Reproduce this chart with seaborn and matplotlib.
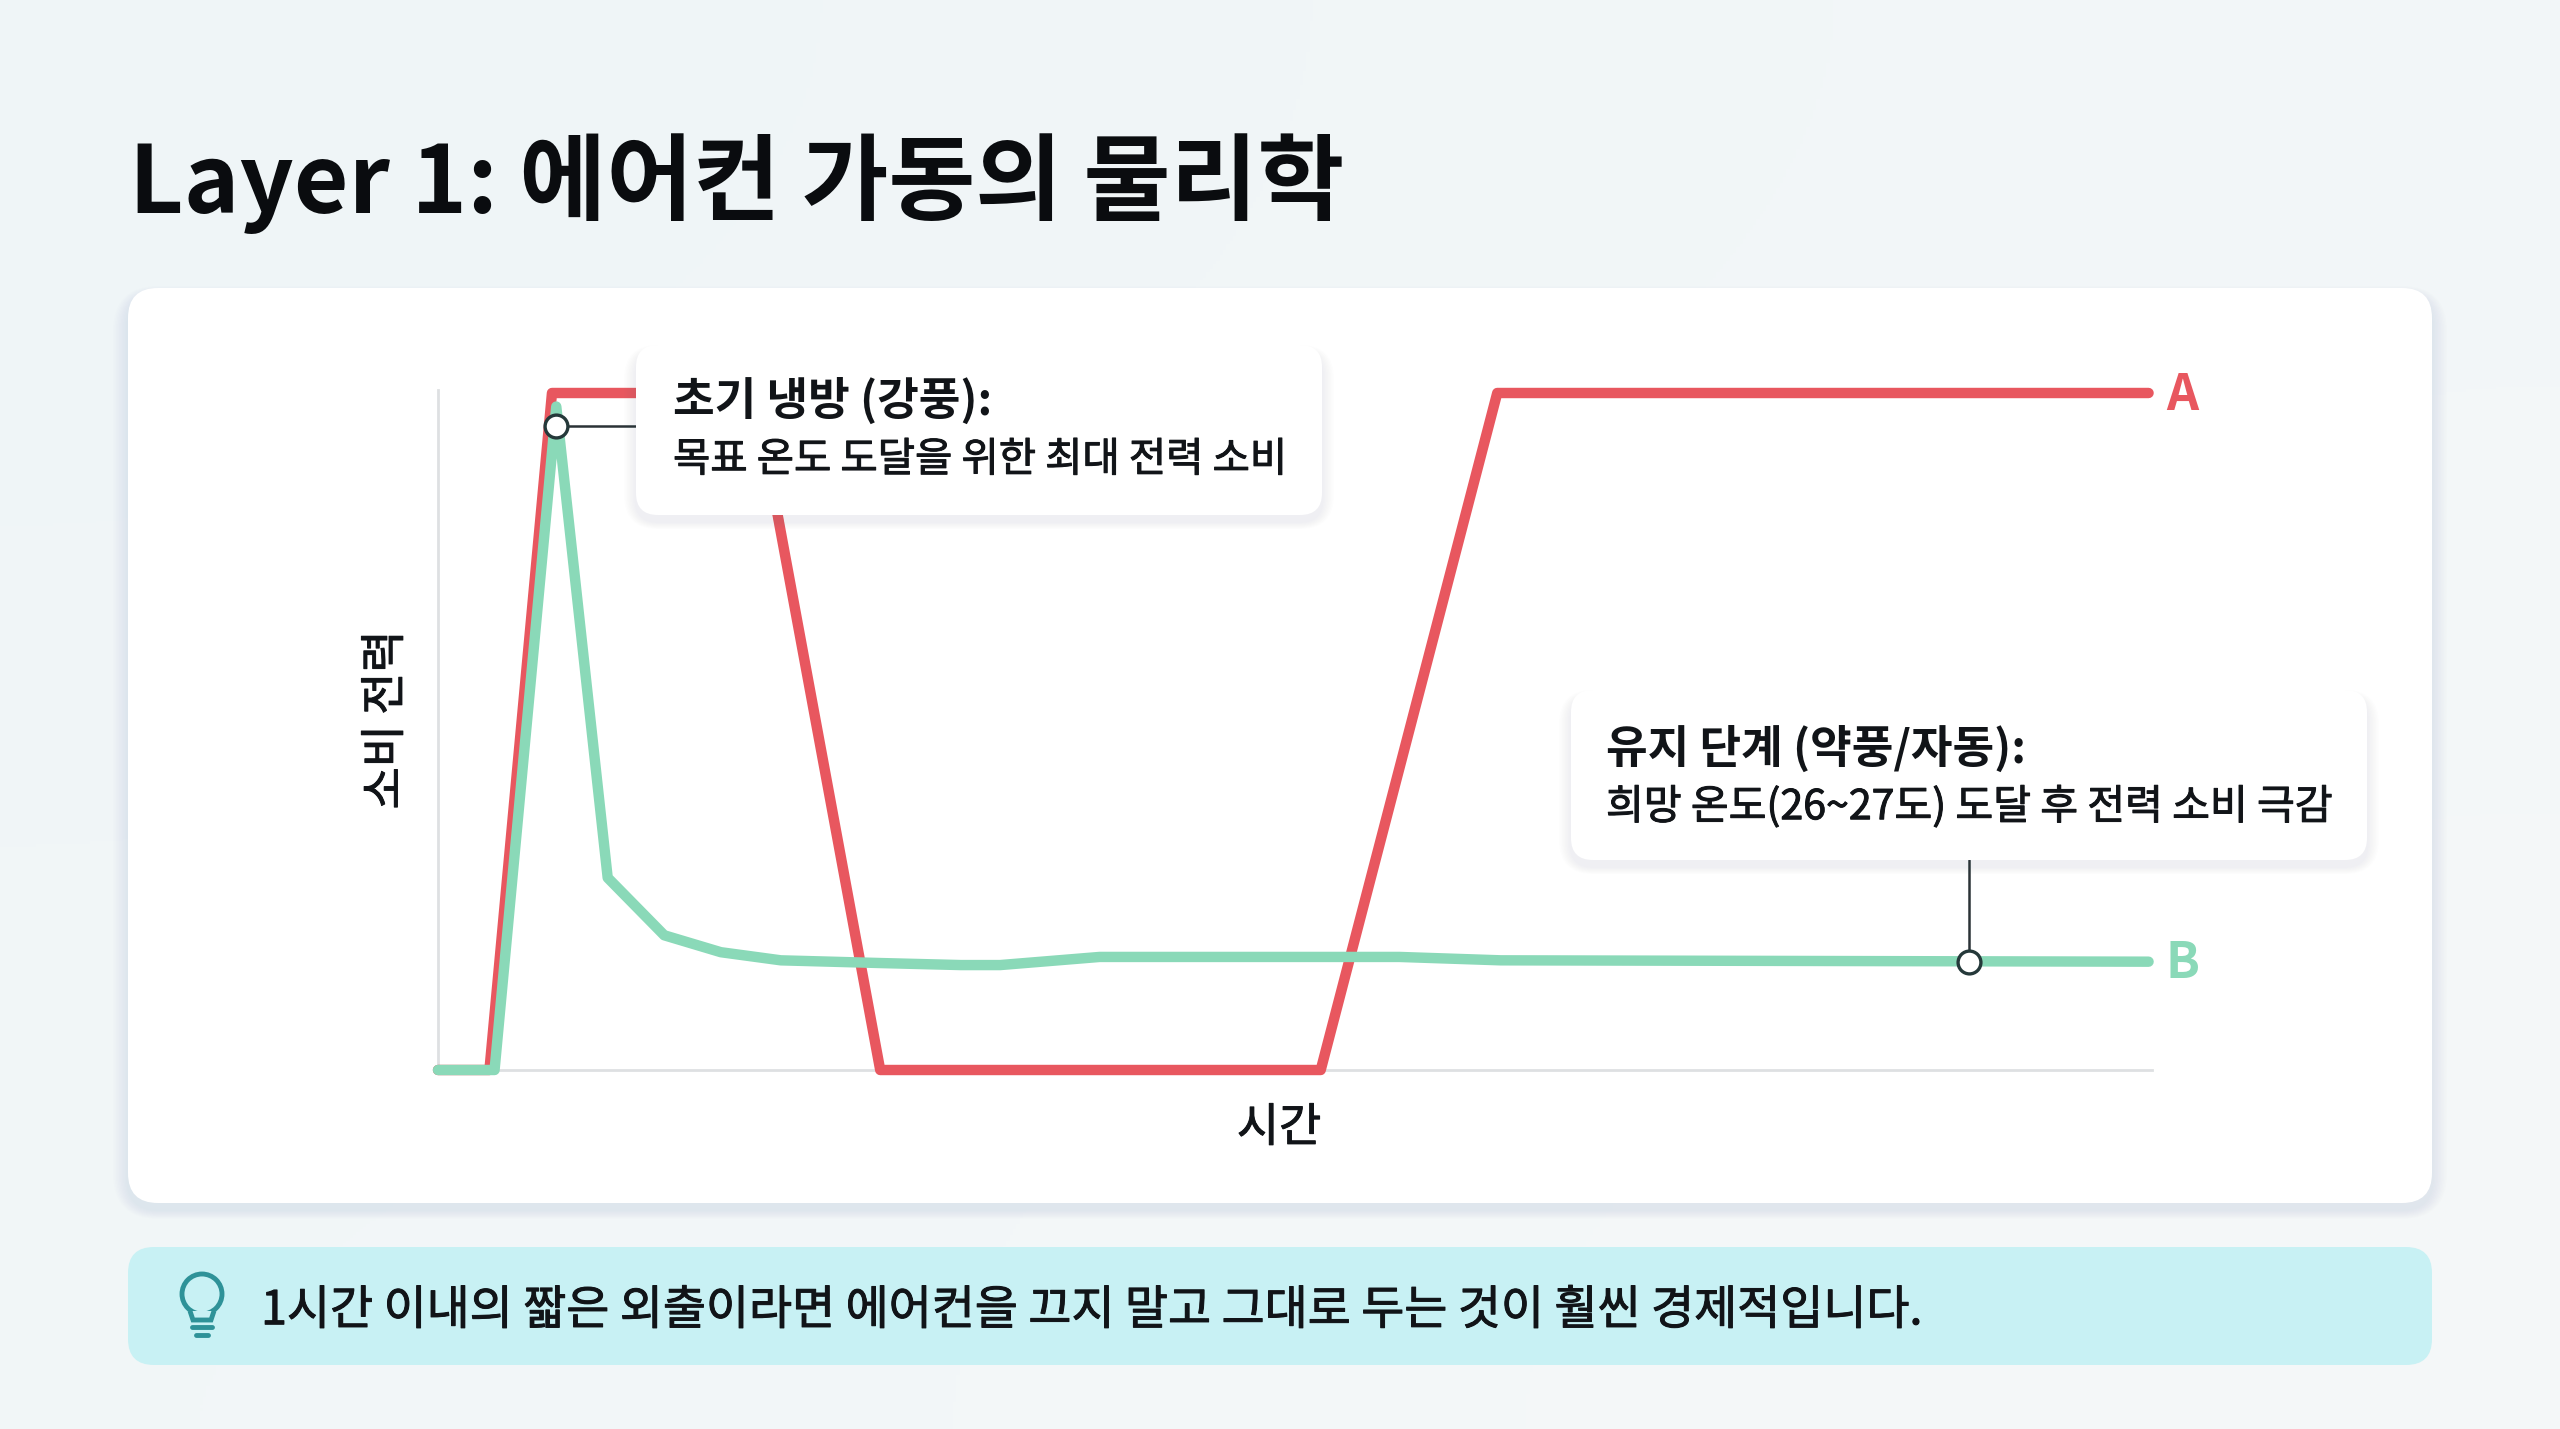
import numpy as np
import pandas as pd
import matplotlib.pyplot as plt
import matplotlib.patheffects as pe
from matplotlib.patches import FancyBboxPatch, Circle, Polygon
import seaborn as sns

# Valores (tiempo y potencia en escala 0-100)
tiempo_a = [0, 3.0, 6.65, 18.5, 25.8, 51.5, 61.8, 99.8]
potencia_a = [0, 0, 100, 100, 0, 0, 100, 100]
tiempo_b = [0, 3.3, 6.9, 9.9, 13.2, 16.5, 20, 25.8, 30.5, 32.8, 38.6, 56.1, 62, 99.8]
potencia_b = [0, 0, 98, 28.4, 19.9, 17.4, 16.2, 15.8, 15.5, 15.5, 16.7, 16.7, 16.2, 16]
marcador_x = [6.9, 89.3]
marcador_y = [95.1, 16]

titulo = "Layer 1: 에어컨 가동의 물리학"
etiqueta_y = "소비 전력"
etiqueta_x = "시간"
nota1_titulo = "초기 냉방 (강풍):"
nota1_texto = "목표 온도 도달을 위한 최대 전력 소비"
nota2_titulo = "유지 단계 (약풍/자동):"
nota2_texto = "희망 온도(26~27도) 도달 후 전력 소비 극감"
consejo = "1시간 이내의 짧은 외출이라면 에어컨을 끄지 말고 그대로 두는 것이 훨씬 경제적입니다."

ROJO = "#E8575F"
VERDE = "#8AD9B8"
TINTA = "#111418"
W, H = 2560, 1429
grueso = [pe.withStroke(linewidth=0.7, foreground=TINTA)]

sns.set_style("white")
plt.rcParams["font.family"] = ["Noto Sans CJK KR", "DejaVu Sans"]

df_a = pd.DataFrame({"t": tiempo_a, "p": potencia_a})
df_b = pd.DataFrame({"t": tiempo_b, "p": potencia_b})

fig = plt.figure(figsize=(W / 100, H / 100), dpi=100)


def capa(z):
    a = fig.add_axes([0, 0, 1, 1], zorder=z)
    a.set_xlim(0, W)
    a.set_ylim(H, 0)
    a.axis("off")
    a.patch.set_alpha(0)
    return a


def caja(a, x0, y0, x1, y1, color, r, sombra=0, fuerza=0.009):
    # sombra suave con varias capas translucidas
    for i in range(sombra, 0, -3):
        a.add_patch(FancyBboxPatch((x0 - i * 0.5, y0 - i * 0.3 + 7), x1 - x0 + i, y1 - y0 + i * 0.6,
                                   boxstyle=f"round,pad=0,rounding_size={r + i * 0.5}",
                                   fc="#5A6B78", ec="none", alpha=fuerza))
    a.add_patch(FancyBboxPatch((x0, y0), x1 - x0, y1 - y0, boxstyle=f"round,pad=0,rounding_size={r}",
                               fc=color, ec="none"))


# Fondo y tarjetas
fondo = capa(1)
grad = np.array([[0.0, 0.3, 0.6], [0.5, 0.8, 1.0]])
fondo.imshow(grad, extent=[0, W, H, 0], aspect="auto", cmap=sns.blend_palette(["#EFF5F7", "#F5F8F9"], as_cmap=True),
             interpolation="bicubic")
fondo.set_xlim(0, W)
fondo.set_ylim(H, 0)
caja(fondo, 128, 288, 2432, 1203, "white", 30, sombra=30)
caja(fondo, 128, 1247, 2432, 1365, "#C8F1F4", 26)
fondo.text(129, 184, titulo, fontsize=68, fontweight="bold", color="#0A0C0F", va="center", ha="left")
fondo.text(261, 1311, consejo, fontsize=33.7, color=TINTA, va="center", ha="left", path_effects=grueso)

# Icono de bombilla
teal = "#2E9298"
fondo.add_patch(Circle((202, 1294), 20, fc="none", ec=teal, lw=3.5))
fondo.add_patch(Polygon([[190, 1311], [193, 1320], [211, 1320], [214, 1311]], closed=False, fc="#C8F1F4", ec=teal, lw=3.5))
fondo.plot([192, 212], [1327, 1327], color=teal, lw=3.5)
fondo.plot([196, 208], [1335, 1335], color=teal, lw=3.5)

# Grafico principal
x0, x1 = 438, 2152
y0, y1 = 1070, 393
ax = fig.add_axes([x0 / W, 1 - y0 / H, (x1 - x0) / W, (y0 - y1) / H], zorder=2)
ax.patch.set_alpha(0)
sns.lineplot(data=df_a, x="t", y="p", color=ROJO, lw=7.5, ax=ax, estimator=None, sort=False, zorder=3,
             solid_joinstyle="round", solid_capstyle="round", clip_on=False)
sns.lineplot(data=df_b, x="t", y="p", color=VERDE, lw=7.5, ax=ax, estimator=None, sort=False, zorder=3,
             solid_joinstyle="round", solid_capstyle="round", clip_on=False)
ax.set_xlim(0, 100)
ax.set_ylim(0, 100)
ax.set_xticks([])
ax.set_yticks([])
ax.set_xlabel("")
ax.set_ylabel("")
for s in ["top", "right"]:
    ax.spines[s].set_visible(False)
for s in ["left", "bottom"]:
    ax.spines[s].set_color("#DEE0E2")
    ax.spines[s].set_linewidth(2)
    ax.spines[s].set_zorder(1)
ax.spines["left"].set_bounds(0, 100.5)

# Lineas guia y marcadores
ax.plot([marcador_x[0], 12], [marcador_y[0], marcador_y[0]], color="#2B3236", lw=1.8, zorder=4)
ax.plot([marcador_x[1], marcador_x[1]], [marcador_y[1], 31], color="#2B3236", lw=1.8, zorder=4)
ax.scatter(marcador_x, marcador_y, s=270, fc="white", ec="#25393A", lw=2.4, zorder=5, clip_on=False)

ax.text(100.8, 99.6, "A", color=ROJO, fontsize=36, fontweight="bold", va="center", ha="left", clip_on=False)
ax.text(100.8, 15.8, "B", color=VERDE, fontsize=36, fontweight="bold", va="center", ha="left", clip_on=False)

# Capa de anotaciones
top = capa(3)
caja(top, 636, 345, 1322, 515, "white", 22, sombra=24)
caja(top, 1571, 690, 2367, 860, "white", 22, sombra=24)
top.text(673, 401, nota1_titulo, fontsize=32.6, fontweight="bold", color=TINTA, va="center")
top.text(673, 460, nota1_texto, fontsize=29.2, color=TINTA, va="center", path_effects=grueso)
top.text(1606, 749, nota2_titulo, fontsize=32.6, fontweight="bold", color=TINTA, va="center")
top.text(1606, 807, nota2_texto, fontsize=29.6, color=TINTA, va="center", path_effects=grueso)
top.text(386, 720, etiqueta_y, fontsize=33, rotation=90, color=TINTA, va="center", ha="center", path_effects=grueso)
top.text(1279, 1128, etiqueta_x, fontsize=33, color=TINTA, va="center", ha="center", path_effects=grueso)

fig.savefig("out.png", dpi=100)
